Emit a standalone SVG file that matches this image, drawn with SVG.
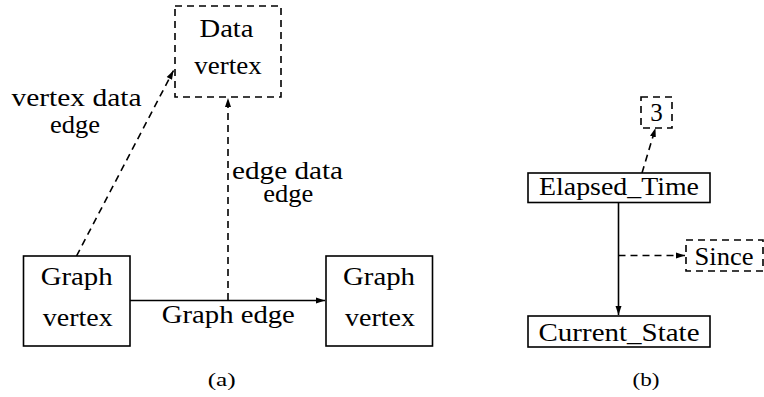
<svg xmlns="http://www.w3.org/2000/svg" width="764" height="397" viewBox="0 0 764 397">
<defs>
<style>
.box{fill:#fff;stroke:#000;stroke-width:1.6}
.dbox{fill:#fff;stroke:#000;stroke-width:1.6;stroke-dasharray:7 5}
.e{fill:none;stroke:#000;stroke-width:1.6}
.de{fill:none;stroke:#000;stroke-width:1.6;stroke-dasharray:7 5}
</style>
<marker id="ah" markerUnits="userSpaceOnUse" markerWidth="10" markerHeight="8" refX="9" refY="3" orient="auto" viewBox="0 0 10 6">
<path d="M0,0 L9,3 L0,6 Z" fill="#000"/>
</marker>
</defs>
<rect width="764" height="397" fill="#fff"/>
<g id="connectors">
<line class="e" x1="130" y1="300.5" x2="325" y2="300.5" marker-end="url(#ah)"/>
<line class="de" x1="228" y1="300" x2="228" y2="98" marker-end="url(#ah)"/>
<line class="de" x1="76.5" y1="256" x2="173.5" y2="70.5" marker-end="url(#ah)"/>
<line class="e" x1="618.5" y1="202" x2="618.5" y2="315" marker-end="url(#ah)"/>
<line class="de" x1="618.5" y1="255.5" x2="685" y2="255.5" marker-end="url(#ah)"/>
<line class="de" x1="642" y1="173" x2="655.5" y2="128" marker-end="url(#ah)"/>
<text font-family="Liberation Serif, serif" font-size="25" text-anchor="middle" x="76.5" y="106" textLength="130" lengthAdjust="spacingAndGlyphs">vertex data</text>
<text font-family="Liberation Serif, serif" font-size="25" text-anchor="middle" x="75" y="132.5" textLength="50" lengthAdjust="spacingAndGlyphs">edge</text>
<text font-family="Liberation Serif, serif" font-size="25" text-anchor="middle" x="287.5" y="179" textLength="111" lengthAdjust="spacingAndGlyphs">edge data</text>
<text font-family="Liberation Serif, serif" font-size="25" text-anchor="middle" x="288.3" y="201.5" textLength="50" lengthAdjust="spacingAndGlyphs">edge</text>
<text font-family="Liberation Serif, serif" font-size="25" text-anchor="middle" x="228.3" y="322.5" textLength="133" lengthAdjust="spacingAndGlyphs">Graph edge</text>
</g>
<g id="data-vertex">
<rect class="dbox" x="175" y="6" width="106" height="91"/>
<text font-family="Liberation Serif, serif" font-size="25" text-anchor="middle" x="226.5" y="37" textLength="54" lengthAdjust="spacingAndGlyphs">Data</text>
<text font-family="Liberation Serif, serif" font-size="25" text-anchor="middle" x="228" y="74" textLength="67.5" lengthAdjust="spacingAndGlyphs">vertex</text>
</g>
<g id="graph-vertex-1">
<rect class="box" x="23.5" y="256" width="106.5" height="90"/>
<text font-family="Liberation Serif, serif" font-size="25" text-anchor="middle" x="76.7" y="285" textLength="72" lengthAdjust="spacingAndGlyphs">Graph</text>
<text font-family="Liberation Serif, serif" font-size="25" text-anchor="middle" x="77.7" y="325.5" textLength="70" lengthAdjust="spacingAndGlyphs">vertex</text>
</g>
<g id="graph-vertex-2">
<rect class="box" x="326" y="256" width="106.5" height="90"/>
<text font-family="Liberation Serif, serif" font-size="25" text-anchor="middle" x="379" y="285" textLength="72" lengthAdjust="spacingAndGlyphs">Graph</text>
<text font-family="Liberation Serif, serif" font-size="25" text-anchor="middle" x="380" y="325.5" textLength="70" lengthAdjust="spacingAndGlyphs">vertex</text>
</g>
<g id="caption-a"><text font-family="Liberation Serif, serif" font-size="19" text-anchor="middle" x="221.7" y="385.5" textLength="28" lengthAdjust="spacingAndGlyphs">(a)</text></g>
<g id="node-3">
<rect class="dbox" x="641" y="97" width="31" height="31"/>
<text font-family="Liberation Serif, serif" font-size="25" text-anchor="middle" x="656.5" y="120.5">3</text>
</g>
<g id="elapsed-time">
<rect class="box" x="528" y="173" width="182" height="29.5"/>
<text font-family="Liberation Serif, serif" font-size="25" text-anchor="middle" x="619" y="195" textLength="160" lengthAdjust="spacingAndGlyphs">Elapsed_Time</text>
</g>
<g id="since">
<rect class="dbox" x="686" y="240" width="77" height="31"/>
<text font-family="Liberation Serif, serif" font-size="25" text-anchor="middle" x="724" y="265" textLength="59" lengthAdjust="spacingAndGlyphs">Since</text>
</g>
<g id="current-state">
<rect class="box" x="528" y="316" width="182" height="31"/>
<text font-family="Liberation Serif, serif" font-size="25" text-anchor="middle" x="619" y="340.5" textLength="161" lengthAdjust="spacingAndGlyphs">Current_State</text>
</g>
<g id="caption-b"><text font-family="Liberation Serif, serif" font-size="19" text-anchor="middle" x="646" y="385.5" textLength="27" lengthAdjust="spacingAndGlyphs">(b)</text></g>
</svg>
